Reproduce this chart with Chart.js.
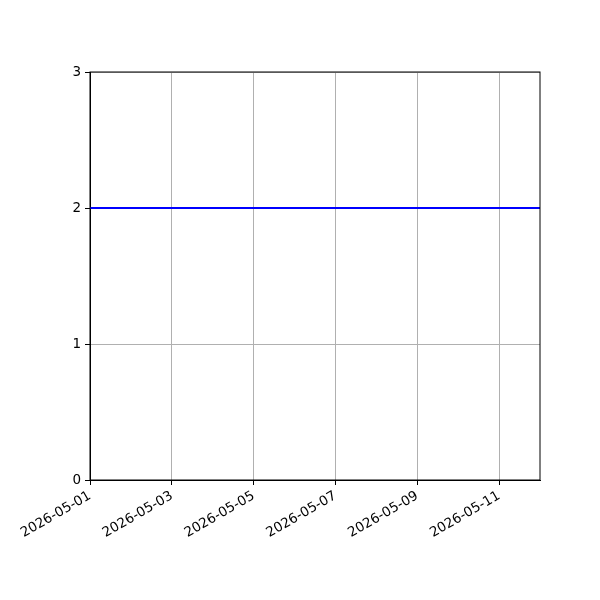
<!DOCTYPE html>
<html>
<head>
<meta charset="utf-8">
<script src="https://cdn.jsdelivr.net/npm/chart.js@4"></script>
<style>
  html, body { margin: 0; padding: 0; background: #fff; }
  #wrap { width: 600px; height: 600px; }
</style>
</head>
<body>
<div id="wrap"><canvas id="myChart" width="600" height="600"></canvas></div>
<script>
// dates as day offsets from 2026-05-01
const dates = ['2026-05-01', '2026-05-02', '2026-05-03', '2026-05-04', '2026-05-05', '2026-05-06',
  '2026-05-07', '2026-05-08', '2026-05-09', '2026-05-10', '2026-05-11', '2026-05-12'];
const values = [2, 2, 2, 2, 2, 2, 2, 2, 2, 2, 2, 2];
const xTicks = [0, 2, 4, 6, 8, 10];
const yTicks = [0, 1, 2, 3];

const startDay = new Date(dates[0] + 'T00:00:00Z');
function dayOffset(s) {
  return (new Date(s + 'T00:00:00Z') - startDay) / 86400000;
}
function dayLabel(v) {
  const d = new Date(startDay.getTime() + v * 86400000);
  return d.toISOString().slice(0, 10);
}

const points = dates.map((d, i) => ({ x: dayOffset(d), y: values[i] }));

const frame = {
  id: 'frame',
  afterDatasetsDraw(chart) {
    const { ctx, chartArea: a } = chart;
    ctx.save();
    ctx.strokeStyle = '#000';
    ctx.lineWidth = 1;
    ctx.strokeRect(a.left, a.top, a.right - a.left, a.bottom - a.top);
    ctx.restore();
  },
};

const font = { family: 'DejaVu Sans', size: 13.5 };

const ctx = document.getElementById('myChart').getContext('2d');
new Chart(ctx, {
  type: 'line',
  data: {
    datasets: [
      {
        data: points,
        borderColor: '#0000ff',
        borderWidth: 2,
        pointRadius: 0,
        tension: 0,
      },
    ],
  },
  options: {
    responsive: false,
    animation: false,
    layout: { padding: { top: 72, right: 60, left: 0, bottom: 0 } },
    plugins: { legend: { display: false }, tooltip: { enabled: false } },
    scales: {
      x: {
        type: 'linear',
        min: 0,
        max: dayOffset(dates[dates.length - 1]),
        afterBuildTicks: (scale) => { scale.ticks = xTicks.map((v) => ({ value: v })); },
        afterFit: (scale) => { scale.height = 120; },
        grid: { color: '#b0b0b0', tickColor: '#000', tickLength: 5 },
        border: { color: '#000' },
        ticks: {
          color: '#000',
          font: font,
          minRotation: 30,
          maxRotation: 30,
          padding: 3,
          callback: (v) => dayLabel(v),
        },
      },
      y: {
        min: 0,
        max: 3,
        afterBuildTicks: (scale) => { scale.ticks = yTicks.map((v) => ({ value: v })); },
        afterFit: (scale) => { scale.width = 90; },
        grid: { color: '#b0b0b0', tickColor: '#000', tickLength: 5 },
        border: { color: '#000' },
        ticks: { color: '#000', font: font, padding: 4 },
      },
    },
  },
  plugins: [frame],
});
</script>
</body>
</html>
